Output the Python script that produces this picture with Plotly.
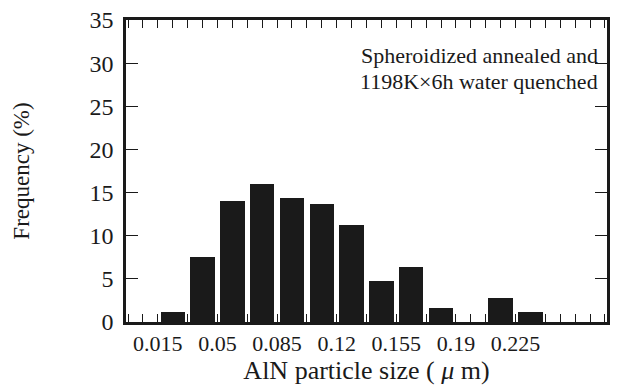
import plotly.graph_objects as go

bin_centers = [0.02375, 0.04125, 0.05875, 0.07625, 0.09375, 0.11125, 0.12875,
               0.14625, 0.16375, 0.18125, 0.19875, 0.21625, 0.23375]
frequency = [1.2, 7.5, 14.0, 16.0, 14.4, 13.7, 11.2, 4.8, 6.4, 1.6, 0.0, 2.8, 1.2]
x_tickvals = [0.015, 0.05, 0.085, 0.12, 0.155, 0.19, 0.225]
x_ticktext = ["0.015", "0.05", "0.085", "0.12", "0.155", "0.19", "0.225"]
y_tickvals = [0, 5, 10, 15, 20, 25, 30, 35]

FONT = "Liberation Serif"
INK = "#1a1a1a"

fig = go.Figure()
fig.add_trace(go.Bar(
    x=bin_centers, y=frequency, width=0.0143,
    marker=dict(color=INK, line=dict(width=0)),
    showlegend=False,
))

fig.update_layout(
    width=617, height=387,
    margin=dict(l=126, r=7, t=20, b=65),
    paper_bgcolor="white", plot_bgcolor="white",
    font=dict(family=FONT, size=22, color=INK),
    bargap=0,
)

fig.update_xaxes(
    range=[-0.0037, 0.2787],
    tickvals=x_tickvals, ticktext=x_ticktext,
    ticks="inside", ticklen=8, tickwidth=1, tickcolor=INK,
    minor=dict(tick0=0.00625, dtick=0.00875, ticks="inside", ticklen=8,
               tickwidth=1, tickcolor=INK, showgrid=False),
    showline=True, linewidth=2.5, linecolor=INK, mirror="ticks",
    showgrid=False, zeroline=False,
    tickfont=dict(family=FONT, size=22, color=INK),
    title=dict(text="AlN particle size ( <i>μ</i> m)", font=dict(family=FONT, size=26, color=INK), standoff=0),
)
fig.update_yaxes(
    range=[0, 35],
    tickvals=y_tickvals,
    ticks="inside", ticklen=12, tickwidth=1, tickcolor=INK,
    showline=True, linewidth=2.5, linecolor=INK, mirror="ticks",
    showgrid=False, zeroline=False,
    tickfont=dict(family=FONT, size=24, color=INK),
    ticklabelstandoff=5,
    title=dict(text="Frequency (%)", font=dict(family=FONT, size=23, color=INK), standoff=54),
)

fig.add_annotation(x=0.985, y=0.883, xref="paper", yref="paper", xanchor="right", yanchor="middle",
                   text="Spheroidized annealed and", showarrow=False,
                   font=dict(family=FONT, size=22, color=INK))
fig.add_annotation(x=0.985, y=0.797, xref="paper", yref="paper", xanchor="right", yanchor="middle",
                   text="1198K×6h water quenched", showarrow=False,
                   font=dict(family=FONT, size=22, color=INK))

fig.write_html("out.html")
